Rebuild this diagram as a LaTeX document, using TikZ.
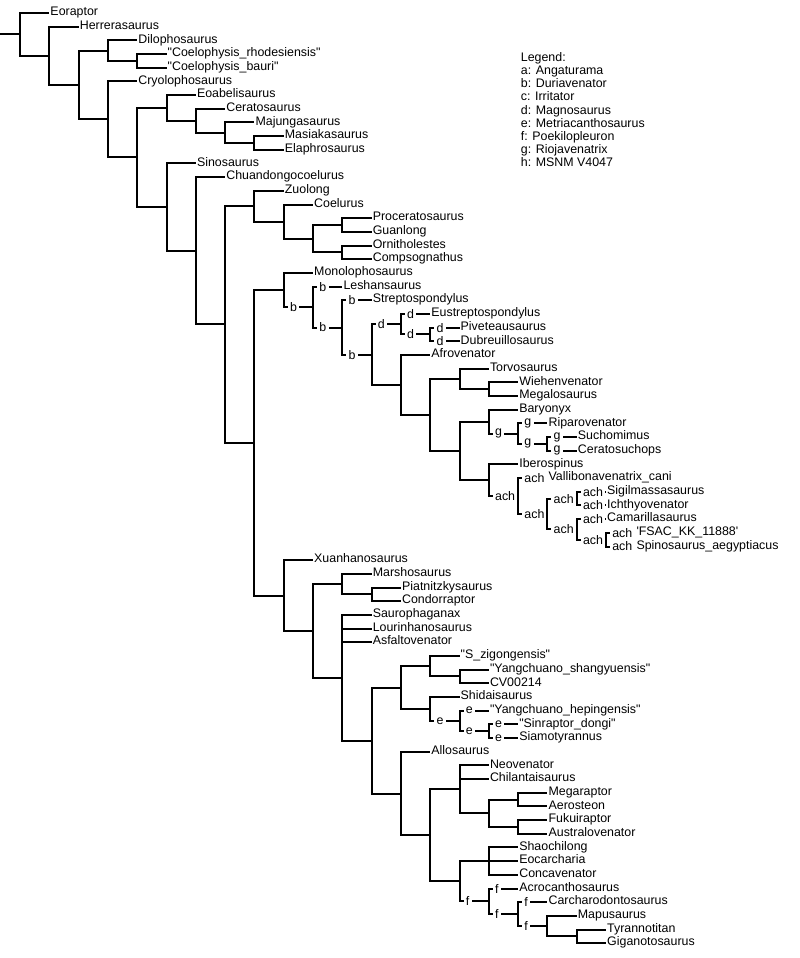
\documentclass[tikz,border=0pt]{standalone}
\usepackage{fontspec}
\setmainfont{Liberation Sans}[Ligatures=TeXOff]
\begin{document}
\begin{tikzpicture}[x=29.3pt, y=-13.68pt, font=\fontsize{12.4}{13.2}\selectfont, line join=miter,
	branch/.style={line width=2pt},
	leaf/.style={anchor=west, inner sep=1pt, text height=8pt, text depth=2.6pt},
	lab/.style={anchor=west, xshift=3pt, fill=white, inner sep=2.3pt}]
	\useasboundingbox (-20pt,-0.68pt) rectangle (780pt,-958.68pt);
	% inner nodes: name/depth/row
	\foreach \n/\d/\r in {R0/0/2.57, N1/1/4.13, N2/2/6.27, N3a/3/3.75, N4a/4/4.5, N3b/3/8.78, N4b/4/11.56,
		N5a/5/7.9375, N6a/6/8.875, N7a/7/9.75, N8a/8/10.5, N5b/5/15.19, N6b/6/18.385, N7b/7/23.77,
		N8b/8/15.125, N9a/9/16.25, N10a/10/17.5, N11a/11/16.5, N11b/11/18.5,
		N8c/8/32.418, N9b/9/21.25, B1/10/22.49, B2/11/23.99, B3/12/25.97, D1/13/23.75, D2/14/24.5,
		N13a/13/28.19, N14a/14/30.383, N15a/15/27.75, N16a/16/28.5, N15b/15/33.016, N16b/16/30.875,
		G1/17/31.75, G2/18/32.5, N16c/16/35.156, A1/17/36.3125, A2/18/37.625, A3/19/36.5, A4/19/38.75, A5/20/39.5,
		N9c/9/43.586, N10b/10/46.171, N11c/11/42.75, N12a/12/43.5, N11d/11/49.592, N12b/12/54.184,
		N13b/13/50.3125, N14b/14/48.75, N15c/15/49.5, N14c/14/51.875, E1/15/52.75, E2/16/53.5,
		N13c/13/58.055, N14d/14/61.109, N15d/15/57.75, N16d/16/59.5, N17a/17/58.5, N17b/17/60.5,
		N15e/15/64.469, N16e/16/63, F1/16/65.9375, F2/17/66.875, F3/18/67.75, N19a/19/68.5}
		\coordinate (\n) at (\d,\r);
	\coordinate (stem) at (-0.7,2.57);
	% taxa: name/depth/row/label
	\foreach \n/\d/\r/\t in {Eor/1/1/Eoraptor, Her/2/2/Herrerasaurus, Dil/4/3/Dilophosaurus,
		Crh/5/4/"Coelophysis\_rhodesiensis", Cba/5/5/"Coelophysis\_bauri", Cry/4/6/Cryolophosaurus,
		Eoa/6/7/Eoabelisaurus, Cer/7/8/Ceratosaurus, Maj/8/9/Majungasaurus, Mas/9/10/Masiakasaurus,
		Ela/9/11/Elaphrosaurus, Sin/6/12/Sinosaurus, Chu/7/13/Chuandongocoelurus, Zuo/9/14/Zuolong,
		Coe/10/15/Coelurus, Pro/12/16/Proceratosaurus, Gua/12/17/Guanlong, Orn/12/18/Ornitholestes,
		Com/12/19/Compsognathus, Mon/10/20/Monolophosaurus, Les/11/21/Leshansaurus,
		Str/12/22/Streptospondylus, Eus/14/23/Eustreptospondylus, Piv/15/24/Piveteausaurus,
		Dub/15/25/Dubreuillosaurus, Afr/14/26/Afrovenator, Tor/16/27/Torvosaurus,
		Wie/17/28/Wiehenvenator, Meg/17/29/Megalosaurus, Bar/17/30/Baryonyx, Rip/18/31/Riparovenator,
		Suc/19/32/Suchomimus, Cts/19/33/Ceratosuchops, Ibe/17/34/Iberospinus,
		Val/18/35/Vallibonavenatrix\_cani, Sig/20/36/Sigilmassasaurus, Ich/20/37/Ichthyovenator,
		Cam/20/38/Camarillasaurus, Fsa/21/39/'FSAC\_KK\_11888', Spi/21/40/Spinosaurus\_aegyptiacus,
		Xua/10/41/Xuanhanosaurus, Mar/12/42/Marshosaurus, Pia/13/43/Piatnitzkysaurus,
		Con/13/44/Condorraptor, Sau/12/45/Saurophaganax, Lou/12/46/Lourinhanosaurus,
		Asf/12/47/Asfaltovenator, Szi/15/48/"S\_zigongensis", Ysh/16/49/"Yangchuano\_shangyuensis",
		Cvz/16/50/CV00214, Shi/15/51/Shidaisaurus, Yhe/16/52/"Yangchuano\_hepingensis",
		Sdo/17/53/"Sinraptor\_dongi", Sia/17/54/Siamotyrannus, All/14/55/Allosaurus,
		Neo/16/56/Neovenator, Chi/16/57/Chilantaisaurus, Mgr/18/58/Megaraptor, Aer/18/59/Aerosteon,
		Fuk/18/60/Fukuiraptor, Aus/18/61/Australovenator, Sha/17/62/Shaochilong,
		Eoc/17/63/Eocarcharia, Cnc/17/64/Concavenator, Acr/17/65/Acrocanthosaurus,
		Car/18/66/Carcharodontosaurus, Map/19/67/Mapusaurus, Tyr/20/68/Tyrannotitan,
		Gig/20/69/Giganotosaurus}
		\node[leaf] (\n) at (\d,\r) {\t};
	% branches
	\draw[branch] (stem) -- (R0);
	\foreach \p/\c in {R0/Eor, R0/N1, N1/Her, N1/N2, N2/N3a, N2/N3b, N3a/Dil, N3a/N4a, N4a/Crh, N4a/Cba,
		N3b/Cry, N3b/N4b, N4b/N5a, N4b/N5b, N5a/Eoa, N5a/N6a, N6a/Cer, N6a/N7a, N7a/Maj, N7a/N8a,
		N8a/Mas, N8a/Ela, N5b/Sin, N5b/N6b, N6b/Chu, N6b/N7b, N7b/N8b, N7b/N8c, N8b/Zuo, N8b/N9a,
		N9a/Coe, N9a/N10a, N10a/N11a, N10a/N11b, N11a/Pro, N11a/Gua, N11b/Orn, N11b/Com,
		N8c/N9b, N8c/N9c, N9b/Mon, B3/N13a, N13a/Afr, N13a/N14a, N14a/N15a, N14a/N15b,
		N15a/Tor, N15a/N16a, N16a/Wie, N16a/Meg, N15b/N16b, N15b/N16c, N16b/Bar, N16c/Ibe,
		N9c/Xua, N9c/N10b, N10b/N11c, N10b/N11d, N11c/Mar, N11c/N12a, N12a/Pia, N12a/Con,
		N11d/Sau, N11d/Lou, N11d/Asf, N11d/N12b, N12b/N13b, N12b/N13c, N13b/N14b, N13b/N14c,
		N14b/Szi, N14b/N15c, N15c/Ysh, N15c/Cvz, N14c/Shi, N13c/All, N13c/N14d, N14d/N15d, N14d/N15e,
		N15d/Neo, N15d/Chi, N15d/N16d, N16d/N17a, N16d/N17b, N17a/Mgr, N17a/Aer, N17b/Fuk, N17b/Aus,
		N15e/N16e, N16e/Sha, N16e/Eoc, N16e/Cnc, F3/Map, F3/N19a, N19a/Tyr, N19a/Gig}
		\draw[branch] (\p) |- (\c);
	% labelled branches
	\foreach \p/\c/\t in {N9b/B1/b, B1/Les/b, B1/B2/b, B2/Str/b, B2/B3/b, B3/D1/d, D1/Eus/d, D1/D2/d,
		D2/Piv/d, D2/Dub/d, N16b/G1/g, G1/Rip/g, G1/G2/g, G2/Suc/g, G2/Cts/g,
		N16c/A1/ach, A1/Val/ach, A1/A2/ach, A2/A3/ach, A2/A4/ach, A3/Sig/ach, A3/Ich/ach,
		A4/Cam/ach, A4/A5/ach, A5/Fsa/ach, A5/Spi/ach, N14c/E1/e, E1/Yhe/e, E1/E2/e, E2/Sdo/e, E2/Sia/e,
		N15e/F1/f, F1/Acr/f, F1/F2/f, F2/Car/f, F2/F3/f}
		\draw[branch] (\p) |- node[lab]{\t} (\c);
	\node[anchor=north west, inner sep=0pt, align=left] (legend) at (500.7pt,-52.7pt)
		{Legend:\\a: Angaturama\\b: Duriavenator\\c: Irritator\\d: Magnosaurus\\e: Metriacanthosaurus\\f: Poekilopleuron\\g: Riojavenatrix\\h: MSNM V4047};
\end{tikzpicture}
\end{document}
